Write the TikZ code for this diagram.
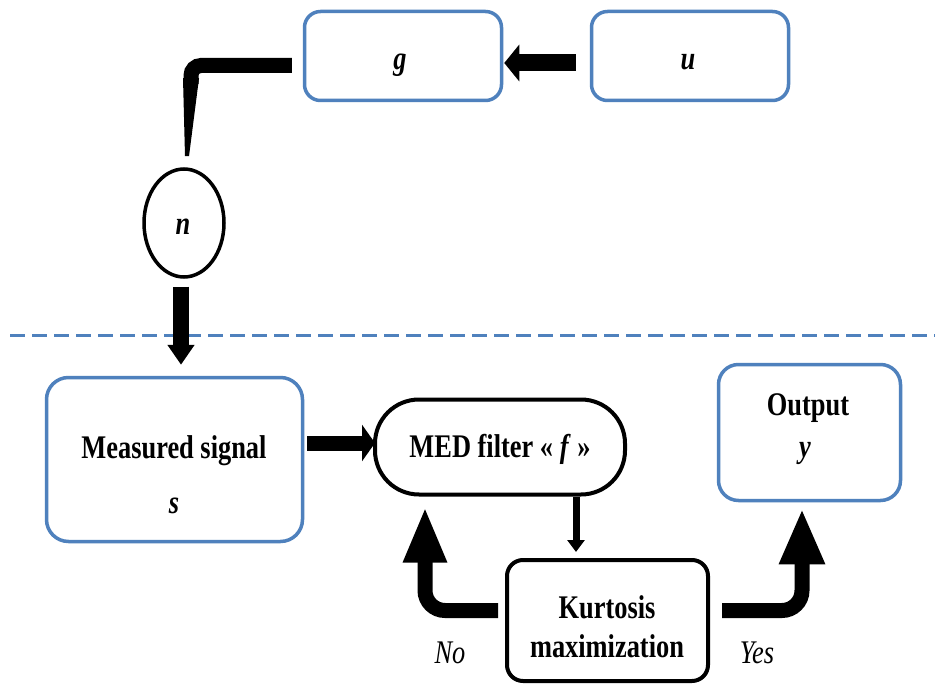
\documentclass[tikz,border=0pt]{standalone}
\usepackage{fontspec}
\setmainfont{Liberation Serif}[FakeStretch=0.8]
\usetikzlibrary{arrows.meta,calc,shapes.geometric}
\definecolor{boxblue}{RGB}{79,129,189}
\begin{document}
\begin{tikzpicture}[x=1pt,y=-1pt,
  bluebox/.style={draw=boxblue, line width=3.5pt, rounded corners=16pt, inner sep=0pt},
  blackbox/.style={draw=black, line width=4pt, inner sep=0pt},
  lbl/.style={anchor=base, inner sep=0pt, font=\fontsize{33}{39}\selectfont\bfseries},
  ital/.style={anchor=base, inner sep=0pt, font=\fontsize{33}{39}\selectfont\itshape},
  fatarrow/.style={draw=black, line width=#1},
]
\fill[white] (0,0) rectangle (935,687);
\useasboundingbox (0,0) rectangle (935,687);

% boxes
\node[bluebox, minimum width=197pt, minimum height=89pt] (g) at (403,56) {};
\node[bluebox, minimum width=197pt, minimum height=89pt] (u) at (690,56) {};
\node[ellipse, draw=black, line width=3.5pt, minimum width=80pt, minimum height=108pt, inner sep=0pt] (n) at (184,223) {};
\node[bluebox, rounded corners=22pt, minimum width=256pt, minimum height=164pt] (ms) at (174.5,459.5) {};
\node[blackbox, rounded corners=44pt, minimum width=250pt, minimum height=95pt] (med) at (500,447) {};
\node[bluebox, rounded corners=20pt, minimum width=182pt, minimum height=136pt] (out) at (809.5,432.5) {};
\node[blackbox, rounded corners=16pt, minimum width=201pt, minimum height=121pt] (k) at (607.5,620.5) {};

% dashed separator
\coordinate (dl) at (10,335);
\coordinate (dr) at (935,335);
\draw[boxblue, line width=3pt, dash pattern=on 15pt off 7pt] (dl) -- (dr);

% texts
\node[lbl] (gt) at (400,70) {\textit{g}};
\node[lbl] (ut) at (688,70) {\textit{u}};
\node[lbl] (nt) at (183,235) {\textit{n}};
\node[lbl] (mst1) at (174,458) {Measured signal};
\node[lbl] (mst2) at (174,513) {\textit{s}};
\node[lbl] (medt) at (500,457) {MED filter « \textit{f} »};
\node[lbl] (outt1) at (808,415) {Output};
\node[lbl] (outt2) at (805,457) {\textit{y}};
\node[lbl] (kt1) at (607,618) {Kurtosis};
\node[lbl] (kt2) at (607,657) {maximization};
\node[ital] (no) at (450,663) {No};
\node[ital] (yes) at (757,663) {Yes};

% u -> g
\draw[fatarrow=17pt, -{Triangle[width=36pt,length=15pt]}]
  ($(u.west)+(-14,7)$) -- ($(g.east)+(1,7)$);

% g -> n (elbow with tapered end)
\coordinate (gs) at ($(g.west)+(-11,9.5)$);
\coordinate (ntip) at ($(n.north)+(3,-11)$);
\coordinate (vx) at ($(ntip)+(4,0)$);
\coordinate (vend) at ($(ntip)+(4,-72)$);
\coordinate (t1) at ($(ntip)+(-4,-78)$);
\coordinate (t2) at ($(ntip)+(12,-78)$);
\coordinate (t3) at ($(ntip)+(2,0)$);
\coordinate (t4) at ($(ntip)+(-2,0)$);
\draw[fatarrow=15pt, rounded corners=10pt] (gs) -- (vx |- gs) -- (vend);
\fill[black] (t1) -- (t2) -- (t3) -- (t4) -- cycle;

% n -> measured signal
\draw[fatarrow=16pt, -{Triangle[width=26pt,length=20pt]}]
  ($(ms.north)+(6.5,-89)$) -- ($(ms.north)+(6.5,-11)$);

% measured signal -> MED
\coordinate (a4) at ($(med.west)+(2,-4)$);
\coordinate (a4s) at ($(ms.east)+(3,0)$);
\draw[fatarrow=15pt, -{Triangle[width=36pt,length=13pt]}]
  (a4s |- a4) -- (a4);

% MED -> Kurtosis
\coordinate (m5) at ($(med.south)+(76,0)$);
\draw[fatarrow=7pt, -{Triangle[width=17pt,length=12pt]}, shorten >=6pt]
  (m5) -- (m5 |- k.north);

% No loop
\coordinate (ks) at ($(k.west)+(-7,-10)$);
\coordinate (nc) at ($(med.west)+(52,0)$);
\draw[fatarrow=15pt, rounded corners=20pt, -{Triangle[width=40pt,length=56pt]}, shorten >=10pt]
  (ks) -- (nc |- ks) -- (nc |- med.south);

% Yes
\coordinate (ye) at ($(k.east)+(12,-10)$);
\coordinate (yc) at ($(out.south)+(-7.5,0)$);
\draw[fatarrow=15pt, rounded corners=20pt, -{Triangle[width=42pt,length=56pt]}, shorten >=6pt]
  (ye) -- (yc |- ye) -- (yc);
\end{tikzpicture}
\end{document}
